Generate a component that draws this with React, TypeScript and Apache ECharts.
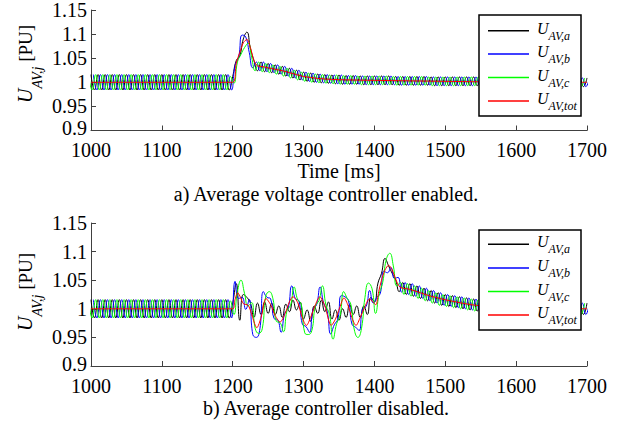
import React, { useEffect, useRef } from 'react';
import * as echarts from 'echarts';

const SERIF = '"Liberation Serif", "Times New Roman", serif';

const X_MIN = 1000;
const X_MAX = 1700;
const X_STEP = 100;
const Y_MIN = 0.9;
const Y_MAX = 1.15;
const Y_STEP = 0.05;

const SAMPLE_MS = 5;
const START_A = 1000;
const START_B = 1003.333;
const START_C = 996.667;

const LEGEND_SUBS = ['AV,a', 'AV,b', 'AV,c', 'AV,tot'];
const COLORS = ['#000000', '#0000ff', '#00ff00', '#ff0000'];

// steady ripple before 1200 ms (same for all phases, time-shifted)
const PRE = [
  1.016, 0.984, 1.016, 0.984, 1.016, 0.984, 1.016, 0.984, 1.016, 0.984,
  1.016, 0.984, 1.016, 0.984, 1.016, 0.984, 1.016, 0.984, 1.016, 0.984,
  1.016, 0.984, 1.016, 0.984, 1.016, 0.984, 1.016, 0.984, 1.016, 0.984,
  1.016, 0.984, 1.016, 0.984, 1.016, 0.984, 1.016, 0.984, 1.016, 0.984,
];

// a) controller enabled
const TOP_A_TR = [1.012, 1.045, 1.055, 1.09, 1.104, 1.07, 1.045];
const TOP_B_TR = [1.035, 1.052, 1.098, 1.094, 1.062, 1.03, 1.042];
const TOP_C_TR = [1.012, 0.998, 1.042, 1.058, 1.072, 1.081, 1.052];
const TOP_TAIL = [
  1.024, 1.042, 1.022, 1.039, 1.02, 1.036, 1.017, 1.033, 1.013, 1.029,
  1.009, 1.025, 1.005, 1.021, 1.002, 1.019, 1.0, 1.017, 0.999, 1.016,
  0.998, 1.015, 0.997, 1.015, 0.996, 1.014, 0.996, 1.014, 0.996, 1.013,
  0.995, 1.013, 0.995, 1.013, 0.995, 1.013, 0.995, 1.013, 0.995, 1.012,
  0.994, 1.012, 0.994, 1.012, 0.994, 1.012, 0.994, 1.012, 0.994, 1.011,
  0.993, 1.011, 0.993, 1.011, 0.993, 1.011, 0.993, 1.011, 0.993, 1.011,
  0.993, 1.011, 0.993, 1.011, 0.992, 1.01, 0.992, 1.01, 0.992, 1.01,
  0.992, 1.01, 0.992, 1.01, 0.992, 1.01, 0.992, 1.01, 0.992, 1.01,
  0.992, 1.01, 0.992, 1.01, 0.991, 1.009, 0.991, 1.009, 0.991, 1.009,
  0.991, 1.009, 0.991, 1.009,
];
const TOP_TOT_T = [1000, 1200, 1205, 1210, 1215, 1220, 1225, 1230, 1235, 1240, 1250, 1260, 1270, 1280, 1290, 1300, 1310, 1320, 1340, 1360, 1400, 1450, 1500, 1550, 1600, 1700];
const TOP_TOT_V = [1.0, 1.0, 1.04, 1.062, 1.082, 1.089, 1.072, 1.045, 1.034, 1.033, 1.03, 1.027, 1.024, 1.02, 1.016, 1.012, 1.01, 1.008, 1.006, 1.005, 1.004, 1.003, 1.002, 1.001, 1.0005, 1.0];

// b) controller disabled
const BOT_A_TR = [
  1.01, 1.044, 0.98, 1.025, 1.02, 1.01, 0.985, 1.01, 0.99, 1.012,
  0.992, 1.01, 0.99, 1.005, 0.985, 1.008, 0.995, 1.015, 0.998, 1.012,
  0.982, 0.998, 0.978, 1.005, 0.992, 1.015, 0.995, 1.012, 0.982, 0.998,
  0.98, 1.0, 0.985, 1.008, 0.99, 1.005, 0.985, 1.005, 0.99, 1.02,
  1.012, 1.045, 1.062, 1.088, 1.075, 1.062, 1.05, 1.03,
];
const BOT_B_TR = [
  1.048, 1.018, 1.02, 0.999, 1.016, 0.955, 0.95, 0.965, 1.03, 1.02,
  1.018, 0.983, 0.981, 0.959, 0.992, 1.001, 1.04, 1.018, 1.014, 0.973,
  0.969, 0.959, 0.999, 1.007, 1.038, 1.01, 0.996, 0.956, 0.972, 0.982,
  1.023, 1.021, 1.014, 0.973, 0.968, 0.962, 1.001, 1.004, 1.032, 1.01,
  1.02, 1.027, 1.066, 1.063, 1.072, 1.053, 1.055, 1.029,
];
const BOT_C_TR = [
  1.014, 0.99, 1.03, 1.05, 1.027, 1.005, 1.011, 0.966, 0.957, 0.965,
  1.022, 1.03, 1.018, 0.978, 0.976, 0.96, 0.997, 1.006, 1.038, 1.016,
  1.008, 0.958, 0.955, 0.962, 1.005, 1.014, 1.04, 1.006, 0.99, 0.947,
  0.974, 0.989, 1.03, 1.018, 1.008, 0.963, 0.95, 0.965, 1.02, 1.045,
  1.035, 0.992, 1.026, 1.046, 1.086, 1.097, 1.075, 1.04,
];
const BOT_TAIL = [
  1.046, 1.025, 1.044, 1.022, 1.04, 1.018, 1.036, 1.014, 1.032, 1.01,
  1.028, 1.006, 1.025, 1.004, 1.023, 1.002, 1.021, 1.0, 1.019, 0.998,
  1.017, 0.996, 1.016, 0.995, 1.015, 0.995, 1.014, 0.994, 1.014, 0.993,
  1.013, 0.993, 1.013, 0.992, 1.012, 0.992, 1.012, 0.992, 1.012, 0.992,
  1.012, 0.992, 1.012, 0.991, 1.011, 0.991, 1.011, 0.991, 1.01, 0.99,
  1.01, 0.99, 1.01,
];
const BOT_TOT_T = [
  1000, 1200, 1203, 1207, 1211, 1215, 1222, 1228, 1234, 1240,
  1247, 1254, 1260, 1267, 1274, 1280, 1285, 1292, 1298, 1304,
  1310, 1316, 1323, 1330, 1339, 1345, 1351, 1357, 1363, 1368,
  1374, 1380, 1386, 1393, 1398, 1402, 1406, 1410, 1415, 1420,
  1425, 1430, 1436, 1450, 1465, 1480, 1507, 1544, 1600, 1650, 1700,
];
const BOT_TOT_V = [
  1.0, 1.0, 1.015, 1.028, 1.02, 1.009, 1.006, 0.985, 0.967, 0.985,
  1.018, 1.006, 0.988, 0.977, 0.992, 1.012, 1.021, 1.01, 0.985, 0.971,
  0.985, 1.005, 1.021, 1.005, 0.971, 0.982, 1.002, 1.019, 1.005, 0.985,
  0.971, 0.985, 1.002, 1.017, 1.012, 1.007, 1.03, 1.05, 1.068, 1.076,
  1.068, 1.052, 1.038, 1.034, 1.028, 1.022, 1.014, 1.006, 1.003, 1.001, 1.0,
];

const CAPTION_A = 'a) Average voltage controller enabled.';
const CAPTION_B = 'b) Average controller disabled.';
const X_NAME = 'Time [ms]';

const sampled = (start: number, vals: number[]) => vals.map((v, i) => [start + i * SAMPLE_MS, v]);
const paired = (ts: number[], vs: number[]) => ts.map((t, i) => [t, vs[i]]);

export default function App() {
  const ref = useRef<HTMLDivElement>(null);

  useEffect(() => {
    if (!ref.current) return;
    const chart = echarts.init(ref.current, undefined, { renderer: 'svg' });

    const axisColor = '#404040';
    const makeX = (gridIndex: number, withName: boolean, margin: number) => ({
      type: 'value',
      gridIndex,
      min: X_MIN,
      max: X_MAX,
      interval: X_STEP,
      name: withName ? X_NAME : '',
      nameLocation: 'middle',
      nameGap: 30,
      nameTextStyle: { fontFamily: SERIF, fontSize: 20, lineHeight: 16, color: '#000' },
      axisLine: { show: true, onZero: false, lineStyle: { color: axisColor, width: 1 } },
      axisTick: { show: true, inside: true, length: 5, lineStyle: { color: axisColor } },
      axisLabel: {
        fontFamily: SERIF,
        fontSize: 20,
        lineHeight: 16,
        color: '#000',
        margin,
        formatter: (v: number) => String(v),
      },
      splitLine: { show: false },
    });
    const makeY = (gridIndex: number) => ({
      type: 'value',
      gridIndex,
      min: Y_MIN,
      max: Y_MAX,
      interval: Y_STEP,
      axisLine: { show: true, lineStyle: { color: axisColor, width: 1 } },
      axisTick: { show: true, inside: true, length: 5, lineStyle: { color: axisColor } },
      axisLabel: {
        fontFamily: SERIF,
        fontSize: 20,
        lineHeight: 16,
        color: '#000',
        margin: 4,
        formatter: (v: number) => (Math.abs(v - Y_MIN) < 1e-9 ? '{lo|' + v + '}' : String(v)),
        rich: {
          lo: { fontFamily: SERIF, fontSize: 20, lineHeight: 16, color: '#000', padding: [0, 0, 5, 0] },
        },
      },
      splitLine: { show: false },
    });

    const topData = [
      sampled(START_A, [...PRE, ...TOP_A_TR, ...TOP_TAIL]),
      sampled(START_B, [...PRE, ...TOP_B_TR, ...TOP_TAIL]),
      sampled(START_C, [...PRE, ...TOP_C_TR, ...TOP_TAIL]),
      paired(TOP_TOT_T, TOP_TOT_V),
    ];
    const botData = [
      sampled(START_A, [...PRE, ...BOT_A_TR, ...BOT_TAIL]),
      sampled(START_B, [...PRE, ...BOT_B_TR, ...BOT_TAIL]),
      sampled(START_C, [...PRE, ...BOT_C_TR, ...BOT_TAIL]),
      paired(BOT_TOT_T, BOT_TOT_V),
    ];

    const series: any[] = [];
    const topNames = LEGEND_SUBS.map((s) => 'top:' + s);
    const botNames = LEGEND_SUBS.map((s) => 'bot:' + s);
    [topData, botData].forEach((plot, p) => {
      plot.forEach((data, k) => {
        series.push({
          type: 'line',
          name: (p === 0 ? topNames : botNames)[k],
          xAxisIndex: p,
          yAxisIndex: p,
          data,
          symbol: 'none',
          showSymbol: false,
          smooth: k === 3 ? 0.3 : 0.5,
          lineStyle: { width: 1, color: COLORS[k] },
          itemStyle: { color: COLORS[k] },
          silent: true,
          z: 2,
        });
      });
    });

    const legendRich = {
      u: { fontFamily: SERIF, fontStyle: 'italic', fontSize: 16, lineHeight: 22, color: '#000', padding: [0, 0, 5, 3] },
      s: { fontFamily: SERIF, fontStyle: 'italic', fontSize: 12, lineHeight: 22, color: '#000', padding: [10, 0, 0, 0] },
    };
    const makeLegend = (names: string[], top: number, gap: number) => ({
      orient: 'vertical',
      left: 488,
      top,
      padding: 0,
      icon: 'rect',
      itemWidth: 41,
      itemHeight: 1.5,
      itemGap: gap,
      selectedMode: false,
      data: names,
      formatter: (name: string) => '{u|U}{s|' + name.split(':')[1] + '}',
      textStyle: { fontFamily: SERIF, color: '#000', rich: legendRich },
      z: 6,
    });

    const yLabelRich = {
      u: { fontFamily: SERIF, fontStyle: 'italic', fontSize: 20, lineHeight: 20, fill: '#000' },
      s: { fontFamily: SERIF, fontStyle: 'italic', fontSize: 14, lineHeight: 20, fill: '#000', padding: [24, 0, 0, 0] },
      n: { fontFamily: SERIF, fontSize: 19, lineHeight: 20, fill: '#000' },
    };
    const yLabel = (startY: number) => ({
      type: 'text',
      x: 25,
      y: startY,
      rotation: Math.PI / 2,
      style: {
        text: '{u|U}{s|AV,j}{n| [PU]}',
        align: 'left',
        verticalAlign: 'middle',
        rich: yLabelRich,
      },
    });
    const caption = (text: string, cy: number) => ({
      type: 'text',
      x: 326,
      y: cy,
      style: { text, fontFamily: SERIF, fontSize: 20, fill: '#000', align: 'center', verticalAlign: 'middle' },
    });
    const legendBox = (y: number, h: number) => ({
      type: 'rect',
      z: 4,
      shape: { x: 479, y, width: 102, height: h },
      style: { fill: '#ffffff', stroke: '#000000', lineWidth: 1.5 },
    });

    chart.setOption({
      animation: false,
      backgroundColor: '#ffffff',
      grid: [
        { left: 91, top: 9, width: 496, height: 121.5 },
        { left: 91, top: 223, width: 496, height: 143 },
      ],
      xAxis: [makeX(0, true, 11.5), makeX(1, false, 11.5)],
      yAxis: [makeY(0), makeY(1)],
      legend: [makeLegend(topNames, 19.7, 1.4), makeLegend(botNames, 233.3, 1.6)],
      graphic: [
        legendBox(15, 101),
        legendBox(230, 100),
        yLabel(103),
        yLabel(331),
        caption(CAPTION_A, 194.3),
        caption(CAPTION_B, 407.5),
      ],
      series,
    });

    return () => chart.dispose();
  }, []);

  return (
    <div
      ref={ref}
      style={{ position: 'fixed', left: 0, top: 0, width: 630, height: 423, background: '#fff' }}
    />
  );
}
